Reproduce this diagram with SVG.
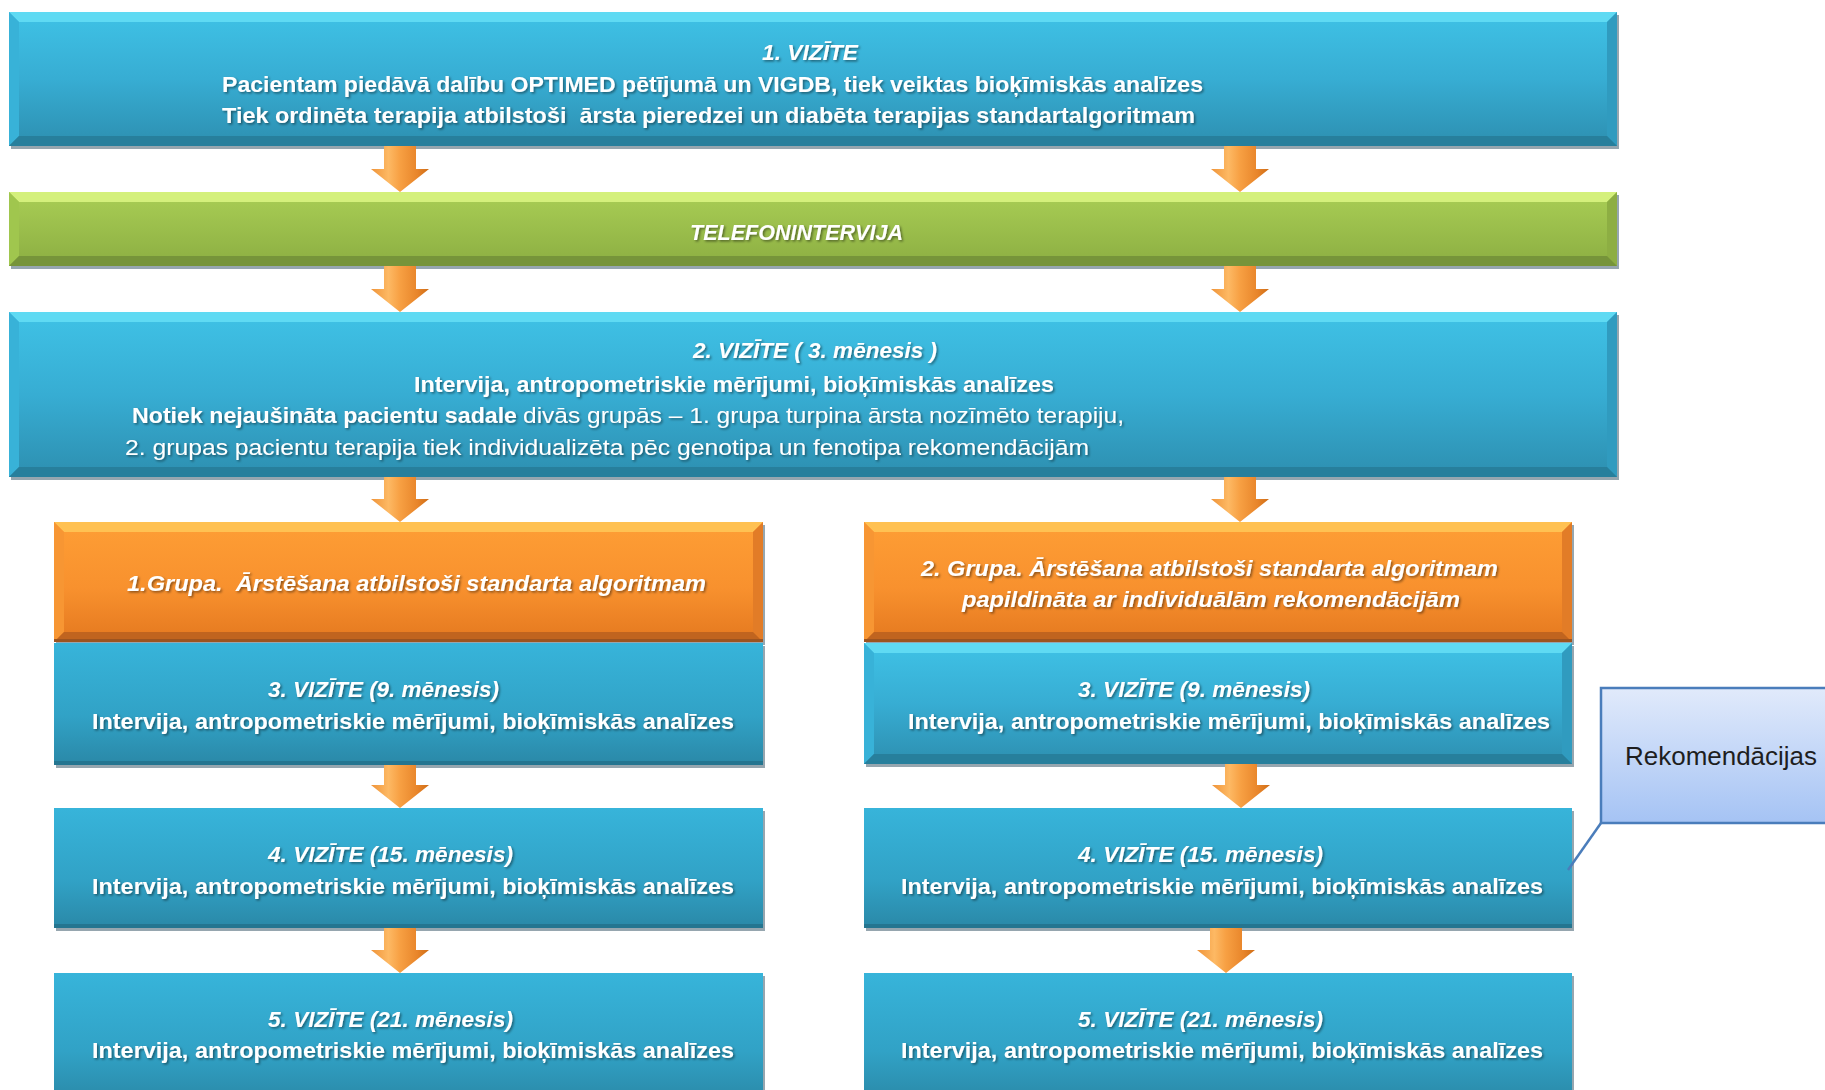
<svg xmlns="http://www.w3.org/2000/svg" width="1825" height="1090" viewBox="0 0 1825 1090">
  <defs>
    <linearGradient id="gBlue" x1="0" y1="0" x2="0" y2="1">
      <stop offset="0" stop-color="#3fc2e6"/>
      <stop offset="0.5" stop-color="#37add3"/>
      <stop offset="1" stop-color="#2d8fb0"/>
    </linearGradient>
    <linearGradient id="gBlueFlat" x1="0" y1="0" x2="0" y2="1">
      <stop offset="0" stop-color="#37b4da"/>
      <stop offset="0.6" stop-color="#31a2c6"/>
      <stop offset="1" stop-color="#2a88a7"/>
    </linearGradient>
    <linearGradient id="gGreen" x1="0" y1="0" x2="0" y2="1">
      <stop offset="0" stop-color="#a9ce55"/>
      <stop offset="1" stop-color="#8cae42"/>
    </linearGradient>
    <linearGradient id="gOrange" x1="0" y1="0" x2="0" y2="1">
      <stop offset="0" stop-color="#fe9e35"/>
      <stop offset="0.55" stop-color="#f8912e"/>
      <stop offset="1" stop-color="#e4781f"/>
    </linearGradient>
    <linearGradient id="gCallout" x1="0" y1="0" x2="0" y2="1">
      <stop offset="0" stop-color="#e1eafb"/>
      <stop offset="1" stop-color="#a5c3f4"/>
    </linearGradient>
    <linearGradient id="gArrow" x1="0" y1="0" x2="1" y2="0">
      <stop offset="0" stop-color="#ef9338"/>
      <stop offset="0.3" stop-color="#fdb964"/>
      <stop offset="0.5" stop-color="#f7a043"/>
      <stop offset="0.8" stop-color="#e8852a"/>
      <stop offset="1" stop-color="#cf6d16"/>
    </linearGradient>
    <filter id="txtShadow" x="-5%" y="-40%" width="110%" height="180%">
      <feDropShadow dx="1.5" dy="1.5" stdDeviation="1" flood-color="#000" flood-opacity="0.45"/>
    </filter>
    <style>
      .shadow { fill: #5d7784; opacity: 0.65; }
      .blue { fill: url(#gBlue); }
      .blueflat { fill: url(#gBlueFlat); }
      .green { fill: url(#gGreen); }
      .orange { fill: url(#gOrange); }
      .bt-blue { fill: #5fdaf3; }
      .bl-blue { fill: #38b2d8; }
      .br-blue { fill: #309bbf; }
      .bb-blue { fill: #277f9c; }
      .bt-green { fill: #d4f07c; }
      .bl-green { fill: #a0c64e; }
      .br-green { fill: #8dae43; }
      .bb-green { fill: #76943a; }
      .bt-orange { fill: #ffc152; }
      .bl-orange { fill: #f79633; }
      .br-orange { fill: #e27c27; }
      .bb-orange { fill: #c0641f; }
      .edge-blue { fill: #247590; }
      .edge-orange { fill: #9c5420; }
      .t { font-family: "Liberation Sans", Arial, sans-serif; font-size: 22px; fill: #ffffff; filter: url(#txtShadow); }
      .b { font-weight: bold; }
      .bi { font-weight: bold; font-style: italic; }
      .arrow { fill: url(#gArrow); }
      .callout { fill: url(#gCallout); stroke: #4a7dbb; stroke-width: 2.5; }
      .callout-line { stroke: #4a7dbb; stroke-width: 2.5; fill: none; }
      .ct { font-family: "Liberation Sans", Arial, sans-serif; font-size: 26px; fill: #1e1e1e; }
    </style>
  </defs>

  <rect width="1825" height="1090" fill="#ffffff"/>

  <!-- Visit 1 -->
  <g id="vizite1">
    <rect class="shadow" x="11" y="15" width="1608" height="134"/>
    <rect class="blue" x="9" y="12" width="1608" height="134"/>
    <path class="bt-blue" d="M9,12 h1608 l-10,10 h-1588z"/>
    <path class="bl-blue" d="M9,12 l10,10 v114 l-10,10z"/>
    <path class="br-blue" d="M1617,12 v134 l-10,-10 v-114z"/>
    <path class="bb-blue" d="M9,146 h1608 l-10,-10 h-1588z"/>
    <text class="t bi" x="762" y="60" textLength="96" lengthAdjust="spacingAndGlyphs">1. VIZĪTE</text>
    <text class="t b" x="222" y="92" textLength="981" lengthAdjust="spacingAndGlyphs">Pacientam piedāvā dalību OPTIMED pētījumā un VIGDB, tiek veiktas bioķīmiskās analīzes</text>
    <text class="t b" x="222" y="123" textLength="973" lengthAdjust="spacingAndGlyphs" xml:space="preserve">Tiek ordinēta terapija atbilstoši  ārsta pieredzei un diabēta terapijas standartalgoritmam</text>
  </g>

  <!-- Phone interview -->
  <g id="telefonintervija">
    <rect class="shadow" x="11" y="195" width="1608" height="74"/>
    <rect class="green" x="9" y="192" width="1608" height="74"/>
    <path class="bt-green" d="M9,192 h1608 l-10,10 h-1588z"/>
    <path class="bl-green" d="M9,192 l10,10 v54 l-10,10z"/>
    <path class="br-green" d="M1617,192 v74 l-10,-10 v-54z"/>
    <path class="bb-green" d="M9,266 h1608 l-10,-10 h-1588z"/>
    <text class="t bi" x="690" y="240" textLength="213" lengthAdjust="spacingAndGlyphs">TELEFONINTERVIJA</text>
  </g>

  <!-- Visit 2 -->
  <g id="vizite2">
    <rect class="shadow" x="11" y="315" width="1608" height="165"/>
    <rect class="blue" x="9" y="312" width="1608" height="165"/>
    <path class="bt-blue" d="M9,312 h1608 l-10,10 h-1588z"/>
    <path class="bl-blue" d="M9,312 l10,10 v145 l-10,10z"/>
    <path class="br-blue" d="M1617,312 v165 l-10,-10 v-145z"/>
    <path class="bb-blue" d="M9,477 h1608 l-10,-10 h-1588z"/>
    <text class="t bi" x="693" y="358" textLength="244" lengthAdjust="spacingAndGlyphs" xml:space="preserve">2. VIZĪTE ( 3. mēnesis )</text>
    <text class="t b" x="414" y="392" textLength="640" lengthAdjust="spacingAndGlyphs">Intervija, antropometriskie mērījumi, bioķīmiskās analīzes</text>
    <text class="t b" x="132" y="423" textLength="385" lengthAdjust="spacingAndGlyphs">Notiek nejaušināta pacientu sadale</text>
    <text class="t" x="523" y="423" textLength="601" lengthAdjust="spacingAndGlyphs">divās grupās – 1. grupa turpina ārsta nozīmēto terapiju,</text>
    <text class="t" x="125" y="455" textLength="964" lengthAdjust="spacingAndGlyphs">2. grupas pacientu terapija tiek individualizēta pēc genotipa un fenotipa rekomendācijām</text>
  </g>

  <!-- Group 1 header -->
  <g id="grupa1">
    <rect class="shadow" x="56" y="525" width="709" height="120"/>
    <rect class="orange" x="54" y="522" width="709" height="120"/>
    <path class="bt-orange" d="M54,522 h709 l-10,10 h-689z"/>
    <path class="bl-orange" d="M54,522 l10,10 v100 l-10,10z"/>
    <path class="br-orange" d="M763,522 v120 l-10,-10 v-100z"/>
    <path class="bb-orange" d="M54,642 h709 l-10,-10 h-689z"/>
    <rect class="edge-orange" x="54" y="639" width="709" height="3"/>
    <text class="t bi" x="127" y="591" textLength="579" lengthAdjust="spacingAndGlyphs" xml:space="preserve">1.Grupa.  Ārstēšana atbilstoši standarta algoritmam</text>
  </g>

  <!-- Group 2 header -->
  <g id="grupa2">
    <rect class="shadow" x="866" y="525" width="708" height="120"/>
    <rect class="orange" x="864" y="522" width="708" height="120"/>
    <path class="bt-orange" d="M864,522 h708 l-10,10 h-688z"/>
    <path class="bl-orange" d="M864,522 l10,10 v100 l-10,10z"/>
    <path class="br-orange" d="M1572,522 v120 l-10,-10 v-100z"/>
    <path class="bb-orange" d="M864,642 h708 l-10,-10 h-688z"/>
    <rect class="edge-orange" x="864" y="639" width="708" height="3"/>
    <text class="t bi" x="921" y="576" textLength="577" lengthAdjust="spacingAndGlyphs">2. Grupa. Ārstēšana atbilstoši standarta algoritmam</text>
    <text class="t bi" x="962" y="607" textLength="498" lengthAdjust="spacingAndGlyphs">papildināta ar individuālām rekomendācijām</text>
  </g>

  <!-- Group 1 follow-up visits -->
  <g id="g1-vizite3">
    <rect class="shadow" x="56" y="646" width="709" height="122"/>
    <rect class="blueflat" x="54" y="643" width="709" height="122"/>
    <rect class="edge-blue" x="54" y="761" width="709" height="4"/>
    <text class="t bi" x="268" y="697" textLength="231" lengthAdjust="spacingAndGlyphs">3. VIZĪTE (9. mēnesis)</text>
    <text class="t b" x="92" y="729" textLength="642" lengthAdjust="spacingAndGlyphs">Intervija, antropometriskie mērījumi, bioķīmiskās analīzes</text>
  </g>
  <g id="g1-vizite4">
    <rect class="shadow" x="56" y="811" width="709" height="120"/>
    <rect class="blueflat" x="54" y="808" width="709" height="120"/>
    <rect class="edge-blue" x="54" y="924" width="709" height="4"/>
    <text class="t bi" x="268" y="862" textLength="245" lengthAdjust="spacingAndGlyphs">4. VIZĪTE (15. mēnesis)</text>
    <text class="t b" x="92" y="894" textLength="642" lengthAdjust="spacingAndGlyphs">Intervija, antropometriskie mērījumi, bioķīmiskās analīzes</text>
  </g>
  <g id="g1-vizite5">
    <rect class="shadow" x="56" y="976" width="709" height="130"/>
    <rect class="blueflat" x="54" y="973" width="709" height="130"/>
    <text class="t bi" x="268" y="1027" textLength="245" lengthAdjust="spacingAndGlyphs">5. VIZĪTE (21. mēnesis)</text>
    <text class="t b" x="92" y="1058" textLength="642" lengthAdjust="spacingAndGlyphs">Intervija, antropometriskie mērījumi, bioķīmiskās analīzes</text>
  </g>

  <!-- Group 2 follow-up visits -->
  <g id="g2-vizite3">
    <rect class="shadow" x="866" y="646" width="708" height="121"/>
    <rect class="blue" x="864" y="643" width="708" height="121"/>
    <path class="bt-blue" d="M864,643 h708 l-10,10 h-688z"/>
    <path class="bl-blue" d="M864,643 l10,10 v101 l-10,10z"/>
    <path class="br-blue" d="M1572,643 v121 l-10,-10 v-101z"/>
    <path class="bb-blue" d="M864,764 h708 l-10,-10 h-688z"/>
    <text class="t bi" x="1078" y="697" textLength="232" lengthAdjust="spacingAndGlyphs">3. VIZĪTE (9. mēnesis)</text>
    <text class="t b" x="908" y="729" textLength="642" lengthAdjust="spacingAndGlyphs">Intervija, antropometriskie mērījumi, bioķīmiskās analīzes</text>
  </g>
  <g id="g2-vizite4">
    <rect class="shadow" x="866" y="811" width="708" height="120"/>
    <rect class="blueflat" x="864" y="808" width="708" height="120"/>
    <rect class="edge-blue" x="864" y="924" width="708" height="4"/>
    <text class="t bi" x="1078" y="862" textLength="245" lengthAdjust="spacingAndGlyphs">4. VIZĪTE (15. mēnesis)</text>
    <text class="t b" x="901" y="894" textLength="642" lengthAdjust="spacingAndGlyphs">Intervija, antropometriskie mērījumi, bioķīmiskās analīzes</text>
  </g>
  <g id="g2-vizite5">
    <rect class="shadow" x="866" y="976" width="708" height="130"/>
    <rect class="blueflat" x="864" y="973" width="708" height="130"/>
    <text class="t bi" x="1078" y="1027" textLength="245" lengthAdjust="spacingAndGlyphs">5. VIZĪTE (21. mēnesis)</text>
    <text class="t b" x="901" y="1058" textLength="642" lengthAdjust="spacingAndGlyphs">Intervija, antropometriskie mērījumi, bioķīmiskās analīzes</text>
  </g>

  <!-- Recommendations callout -->
  <g id="rekomendacijas">
    <line class="callout-line" x1="1601" y1="823" x2="1568" y2="870"/>
    <rect class="callout" x="1601" y="688" width="240" height="135"/>
    <text class="ct" x="1625" y="765" textLength="192" lengthAdjust="spacingAndGlyphs">Rekomendācijas</text>
  </g>

  <!-- Down arrows between steps -->
  <g id="connectors">
    <path class="arrow" d="M384,146 h32 v23 h13 l-29,23 l-29,-23 h13z"/>
    <path class="arrow" d="M1224,146 h32 v23 h13 l-29,23 l-29,-23 h13z"/>
    <path class="arrow" d="M384,266 h32 v23 h13 l-29,23 l-29,-23 h13z"/>
    <path class="arrow" d="M1224,266 h32 v23 h13 l-29,23 l-29,-23 h13z"/>
    <path class="arrow" d="M384,477 h32 v22 h13 l-29,23 l-29,-23 h13z"/>
    <path class="arrow" d="M1224,477 h32 v22 h13 l-29,23 l-29,-23 h13z"/>
    <path class="arrow" d="M384,765 h32 v20 h13 l-29,23 l-29,-23 h13z"/>
    <path class="arrow" d="M384,928 h32 v22 h13 l-29,23 l-29,-23 h13z"/>
    <path class="arrow" d="M1225,764 h32 v21 h13 l-29,23 l-29,-23 h13z"/>
    <path class="arrow" d="M1210,928 h32 v22 h13 l-29,23 l-29,-23 h13z"/>
  </g>
</svg>
